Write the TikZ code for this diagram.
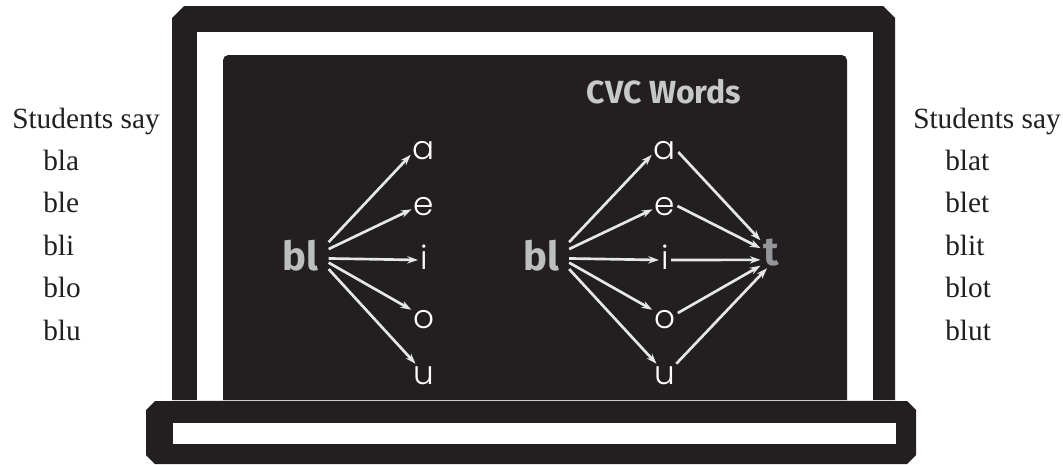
\documentclass[tikz,border=0pt]{standalone}
\usepackage{fontspec}
\setmainfont{Liberation Serif}
\newfontfamily\headfont{Fira Sans}
\newfontfamily\thinsans{Poppins Light}
\definecolor{chalk}{HTML}{231F20}
\definecolor{inkblack}{HTML}{231F20}
\definecolor{onsetgray}{HTML}{BCBEC0}
\definecolor{titlegray}{HTML}{C7C8CA}
\definecolor{codagray}{HTML}{939598}
\definecolor{arrowgray}{HTML}{E6E7E8}
\usetikzlibrary{arrows.meta}
\tikzset{
  stud/.style={
    font=\fontsize{22}{26}\selectfont, text=inkblack,
    anchor=base west, inner sep=0pt
  },
  vowel/.style={
    font=\thinsans\fontsize{24.5}{28}\selectfont, text=white,
    text height=13.5pt, text depth=0pt, inner sep=1.5pt
  },
  onset/.style={
    font=\headfont\bfseries\fontsize{30}{36}\selectfont, text=onsetgray,
    text height=24.75pt, text depth=0pt, inner sep=7.5pt
  },
  coda/.style={
    font=\headfont\bfseries\fontsize{30}{36}\selectfont, text=codagray,
    text height=17.25pt, text depth=0pt, inner sep=2.25pt
  },
  arr/.style={-{Stealth[length=8pt,width=5.5pt]}, line width=2pt, draw=arrowgray},
}

\begin{document}
\begin{tikzpicture}[x=0.75pt, y=-0.75pt]
  \useasboundingbox (0,0) rectangle (1063,464);

  % Laptop
  \fill[chalk] (172,400) -- (172,18) -- (184,6) -- (883,6) -- (895,18)
    -- (895,400) -- cycle;
  \fill[white] (197,32) rectangle (873,400);
  \fill[chalk, rounded corners=4pt] (223,400) -- (223,55) -- (847,55) -- (847,400);
  \fill[chalk] (146,410) -- (155,401) -- (907,401) -- (916,410) -- (916,455)
    -- (907,464) -- (155,464) -- (146,455) -- cycle;
  \fill[white] (173,423) rectangle (896,444);

  % Title
  \node[font=\headfont\bfseries\fontsize{24}{28}\selectfont, text=titlegray,
        anchor=base, inner sep=0pt] (title) at (664,103) {CVC Words};

  % Left side: bl + vowel
  \node[onset] (lbl) at (300.5,253.5) {bl};
  \node[vowel] (la) at (424,150) {a};
  \node[vowel] (le) at (424,206) {e};
  \node[vowel] (li) at (424,260) {i};
  \node[vowel] (lo) at (424,319) {o};
  \node[vowel] (lu) at (424,375) {u};

  \draw[arr] (lbl.22) -- (la.200);
  \draw[arr] (lbl.9) -- (le.195);
  \draw[arr] (lbl.-10) -- (li.west);
  \draw[arr] (lbl.-18) -- (lo.144);
  \draw[arr] (lbl.-29) -- (lu.127);

  % Right side: bl + vowel + t
  \node[onset] (rbl) at (541,253.5) {bl};
  \node[vowel] (ra) at (665,150) {a};
  \node[vowel] (re) at (665,206) {e};
  \node[vowel] (ri) at (665,260) {i};
  \node[vowel] (ro) at (665,319) {o};
  \node[vowel] (ru) at (665,375) {u};
  \node[coda] (rt) at (771.5,253.5) {t};

  \draw[arr] (rbl.22) -- (ra.200);
  \draw[arr] (rbl.9) -- (re.195);
  \draw[arr] (rbl.-10) -- (ri.west);
  \draw[arr] (rbl.-18) -- (ro.144);
  \draw[arr] (rbl.-29) -- (ru.127);

  \draw[arr] (ra.-9) -- (rt.130);
  \draw[arr] (re.east) -- (rt.154);
  \draw[arr] (ri.east) -- (rt.210);
  \draw[arr] (ro.25) -- (rt.228);
  \draw[arr] (ru.45) -- (rt.253);

  % Students say (left)
  \node[stud] (lhead) at (12,128) {Students say};
  \node[stud] (lw1) at (43,170) {bla};
  \node[stud] (lw2) at (43,212) {ble};
  \node[stud] (lw3) at (43,255) {bli};
  \node[stud] (lw4) at (43,297) {blo};
  \node[stud] (lw5) at (43,340) {blu};

  % Students say (right)
  \node[stud] (rhead) at (913,128) {Students say};
  \node[stud] (rw1) at (945,170) {blat};
  \node[stud] (rw2) at (945,212) {blet};
  \node[stud] (rw3) at (945,255) {blit};
  \node[stud] (rw4) at (945,297) {blot};
  \node[stud] (rw5) at (945,340) {blut};
\end{tikzpicture}
\end{document}
